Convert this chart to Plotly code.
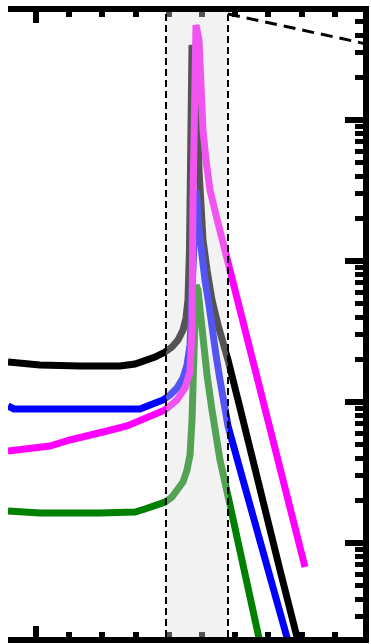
import plotly.graph_objects as go

# ---- data ----
black_x = [-0.843, 0.120, 1.325, 2.530, 2.982, 3.283, 3.584, 3.886, 4.096, 4.277, 4.428, 4.518, 4.578,
           4.623, 4.654, 4.669, 4.699, 4.729, 4.789, 4.880, 4.910, 4.940, 5.030, 5.151, 5.301, 5.482,
           5.663, 5.783, 6.145, 6.657, 7.349, 7.861, 7.952]
black_y = [19.22, 18.30, 18.00, 18.00, 18.60, 19.54, 20.85, 22.62, 24.55, 27.53, 32.40, 39.42, 52.90,
           119.7, 612.8, 1921, 3403, 3137, 2262, 1178, 442, 270.7, 140.9, 86.3, 52.9, 35.2,
           25.4, 19.86, 9.07, 2.797, 0.6434, 0.2154, 0.174]

blue_x = [-0.843, -0.663, 0.723, 1.928, 3.133, 3.283, 3.584, 3.825, 4.036, 4.247, 4.428, 4.548, 4.639,
          4.699, 4.759, 4.789, 4.819, 4.849, 4.910, 5.000, 5.090, 5.211, 5.301, 5.422, 5.542, 5.783,
          6.235, 6.898, 7.560, 7.681]
blue_y = [9.367, 8.920, 8.920, 8.920, 8.920, 9.216, 9.678, 10.33, 11.21, 12.57, 14.80, 18.30, 25.4,
          52.9, 119.7, 195.4, 318.8, 270.7, 165.9, 101.6, 73.3, 48.75, 32.40, 21.54, 14.32, 6.757,
          2.797, 0.757, 0.2154, 0.1687]

magenta_x = [-0.843, -0.181, 0.422, 1.024, 1.627, 2.139, 2.741, 3.133, 3.524, 3.886, 4.247, 4.488,
             4.639, 4.699, 4.729, 4.759, 4.819, 4.910, 4.955, 5.030, 5.120, 5.241, 5.422, 6.446,
             7.380, 8.102]
magenta_y = [4.493, 4.642, 4.874, 5.377, 5.741, 6.228, 6.757, 7.332, 7.956, 8.776, 10.33, 12.57,
             16.32, 32.40, 270.7, 2665, 4719, 3693, 1632, 849.3, 520.3, 318.8, 212.0, 23.38,
             3.036, 0.6757]

green_x = [-0.843, 0.120, 1.928, 2.982, 3.283, 3.584, 3.886, 4.096, 4.277, 4.428, 4.548, 4.639,
           4.699, 4.729, 4.759, 4.819, 4.880, 4.940, 5.030, 5.151, 5.301, 5.542, 5.843, 6.295,
           6.717, 6.807]
green_y = [1.686, 1.632, 1.632, 1.659, 1.742, 1.830, 1.953, 2.120, 2.376, 2.708, 3.294, 4.208,
           7.454, 14.32, 32.40, 67.58, 62.27, 44.93, 27.53, 15.54, 8.776, 3.879, 1.860, 0.6227,
           0.2226, 0.1687]

diag_x = [5.783, 9.819, 10.2]
diag_y = [5646, 3516, 3365]

band_x0 = 3.916
band_x1 = 5.783

x_range = [-0.843, 9.849]
y_range_log = [-0.6667, 3.766]

fig = go.Figure()
for xs, ys, col in [(green_x, green_y, "#008000"), (black_x, black_y, "#000000"),
                    (blue_x, blue_y, "#0000ff"), (magenta_x, magenta_y, "#ff00ff")]:
    fig.add_trace(go.Scatter(x=xs, y=ys, mode="lines", line=dict(color=col, width=7),
                             showlegend=False, hoverinfo="skip"))

fig.add_trace(go.Scatter(x=diag_x, y=diag_y, mode="lines",
                         line=dict(color="black", width=3, dash="12px,7px"),
                         showlegend=False, hoverinfo="skip"))

fig.add_shape(type="rect", xref="x", yref="paper", x0=band_x0, x1=band_x1, y0=0, y1=1,
              fillcolor="rgb(221,221,221)", opacity=0.38, line=dict(width=0), layer="above")
for xv in (band_x0, band_x1):
    fig.add_shape(type="line", xref="x", yref="paper", x0=xv, x1=xv, y0=0, y1=1,
                  line=dict(color="black", width=2, dash="7px,4px"), layer="above")

fig.update_layout(
    width=371, height=644,
    margin=dict(l=8, r=8, t=12, b=7),
    paper_bgcolor="white", plot_bgcolor="white",
    hovermode=False,
    xaxis=dict(range=x_range, showgrid=False, zeroline=False, showticklabels=False,
               showline=True, linecolor="black", linewidth=6, mirror="allticks",
               ticks="inside", ticklen=11, tickwidth=6, tickcolor="black",
               tick0=0, dtick=10,
               minor=dict(ticks="inside", ticklen=5, tickwidth=6, tickcolor="black",
                          dtick=1, showgrid=False)),
    yaxis=dict(type="log", range=y_range_log, side="right", showgrid=False, zeroline=False,
               showticklabels=False, showline=True, linecolor="black", linewidth=6,
               ticks="inside", ticklen=18, tickwidth=6, tickcolor="black", dtick=1,
               minor=dict(ticks="inside", ticklen=8, tickwidth=5, tickcolor="black",
                          showgrid=False)),
)

fig.write_html("out.html", config={"displayModeBar": False, "staticPlot": True},
               post_script="document.body.style.margin='0';document.body.style.overflow='hidden';")
